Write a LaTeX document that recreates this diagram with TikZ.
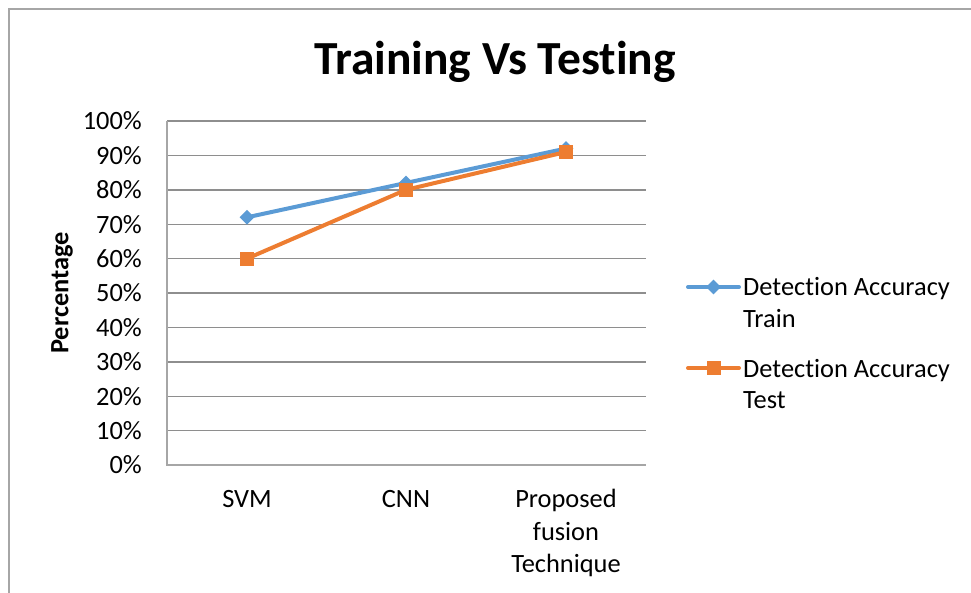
\documentclass[tikz,border=0pt]{standalone}
\usepackage{fontspec}
\setmainfont{Carlito}[Ligatures=NoCommon]
\usetikzlibrary{shapes.geometric}
\definecolor{trainblue}{HTML}{5B9BD5}
\definecolor{testorange}{HTML}{ED7D31}
\definecolor{gridgray}{HTML}{8E8E8E}
\definecolor{framegray}{HTML}{A6A6A6}
\tikzset{
  gridline/.style={draw=gridgray, line width=1.4},
  axisline/.style={draw=framegray, line width=1.4},
  trainline/.style={draw=trainblue, line width=4, line cap=round, line join=round},
  testline/.style={draw=testorange, line width=4, line cap=round, line join=round},
  diam/.style={shape=diamond, fill=trainblue, minimum width=15, minimum height=15, inner sep=0},
  sqr/.style={shape=rectangle, fill=testorange, minimum width=14, minimum height=14, inner sep=0},
  ticklab/.style={anchor=east, inner sep=0, font=\fontsize{26.4}{30}\selectfont},
  catlab/.style={anchor=base, inner sep=0, font=\fontsize{26.4}{30}\selectfont},
  leglab/.style={anchor=base west, inner sep=0, font=\fontsize{26.4}{30}\selectfont},
}
\begin{document}
\begin{tikzpicture}[x=1pt,y=-1pt]
\useasboundingbox (0,0) rectangle (971,592);
% chart frame (extends beyond right and bottom)
\draw[framegray, line width=1.5] (9,600) -- (9,9) -- (980,9);
% title
\node[anchor=base, inner sep=0, font=\fontsize{47.5}{52}\selectfont\bfseries] (title) at (495,74) {Training Vs Testing};
% gridlines and tick labels
\foreach \v in {1,...,10}{
  \draw[gridline] (167,{465-34.4*\v}) -- (646,{465-34.4*\v});
}
\foreach \v/\lab in {0/0\%,1/10\%,2/20\%,3/30\%,4/40\%,5/50\%,6/60\%,7/70\%,8/80\%,9/90\%,10/100\%}{
  \node[ticklab] (tick\v) at (142,{465-34.4*\v}) {\lab};
}
\draw[axisline] (167,121) -- (167,465) -- (646,465);
% axis title
\node[rotate=90, inner sep=0, font=\fontsize{26.4}{30}\selectfont\bfseries] (ytitle) at (62,293) {Percentage};
% category labels
\node[catlab] (svm) at (247,507) {SVM};
\node[catlab] (cnn) at (406,507) {CNN};
\node[catlab] (pft1) at (566,507) {Proposed};
\node[catlab] (pft2) at (566,540) {fusion};
\node[catlab] (pft3) at (566,572) {Technique};
% data coordinates
\coordinate (t1) at (247,{465-3.44*72});
\coordinate (t2) at (406,{465-3.44*82});
\coordinate (t3) at (566,{465-3.44*92});
\coordinate (s1) at (247,{465-3.44*60});
\coordinate (s2) at (406,{465-3.44*80});
\coordinate (s3) at (566,{465-3.44*91});
% train series
\draw[trainline] (t1) -- (t2) -- (t3);
\node[diam] (mt1) at (t1) {};
\node[diam] (mt2) at (t2) {};
\node[diam] (mt3) at (t3) {};
% test series
\draw[testline] (s1) -- (s2) -- (s3);
\node[sqr] (ms1) at (s1) {};
\node[sqr] (ms2) at (s2) {};
\node[sqr] (ms3) at (s3) {};
% legend
\coordinate (la1) at (688,287);
\coordinate (lb1) at (739,287);
\draw[trainline] (la1) -- (lb1);
\node[diam] (lm1) at (713.5,287) {};
\node[leglab] (lt1a) at (743,295) {Detection Accuracy};
\node[leglab] (lt1b) at (743,327) {Train};
\coordinate (la2) at (688,368);
\coordinate (lb2) at (739,368);
\draw[testline] (la2) -- (lb2);
\node[sqr] (lm2) at (713.5,368) {};
\node[leglab] (lt2a) at (743,377) {Detection Accuracy};
\node[leglab] (lt2b) at (743,408) {Test};
\end{tikzpicture}
\end{document}
